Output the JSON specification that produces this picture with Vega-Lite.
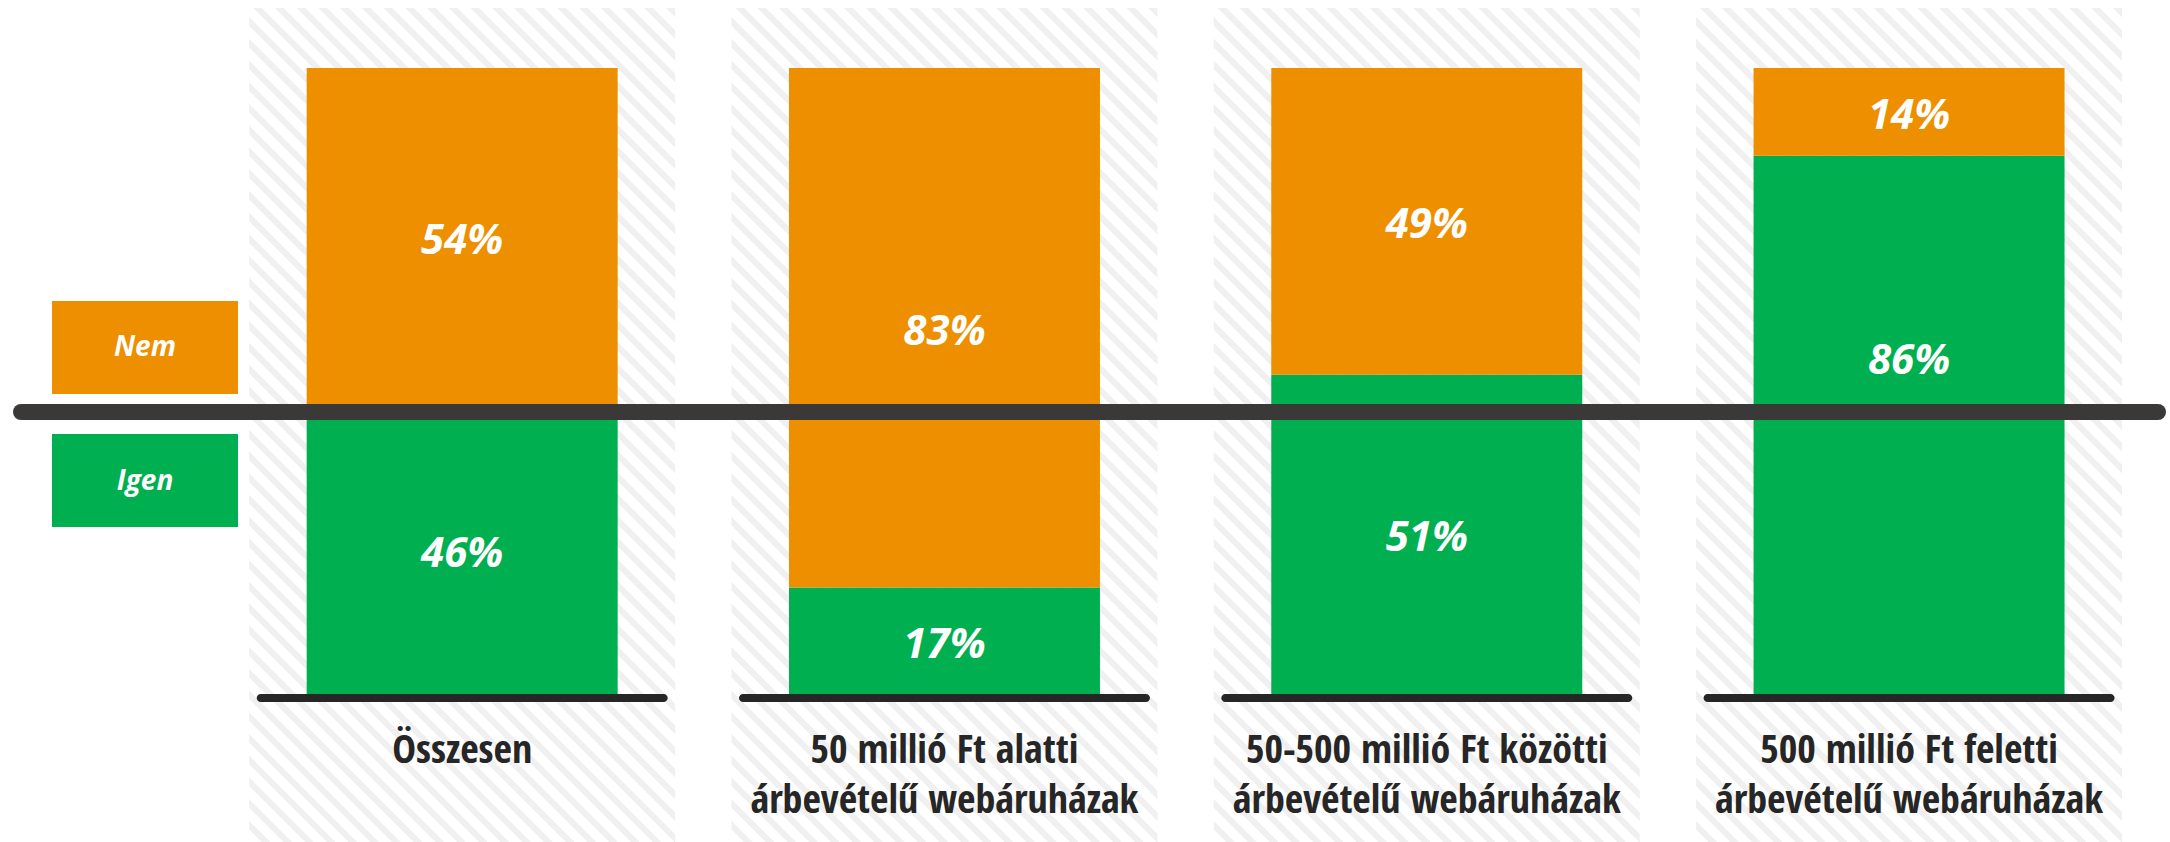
{
  "$schema": "https://vega.github.io/schema/vega-lite/v6.json",
  "width": 2137,
  "height": 842,
  "padding": {"left": 21, "right": 12, "top": 0, "bottom": 0},
  "autosize": {"type": "none"},
  "background": "#ffffff",
  "config": {"view": {"stroke": null}},
  "datasets": {
    "adatok": [
      {"kategoria": "Összesen", "valasz": "Igen", "arany": 0.46},
      {"kategoria": "Összesen", "valasz": "Nem", "arany": 0.54},
      {"kategoria": "50 millió Ft alatti\nárbevételű webáruházak", "valasz": "Igen", "arany": 0.17},
      {"kategoria": "50 millió Ft alatti\nárbevételű webáruházak", "valasz": "Nem", "arany": 0.83},
      {"kategoria": "50-500 millió Ft közötti\nárbevételű webáruházak", "valasz": "Igen", "arany": 0.51},
      {"kategoria": "50-500 millió Ft közötti\nárbevételű webáruházak", "valasz": "Nem", "arany": 0.49},
      {"kategoria": "500 millió Ft feletti\nárbevételű webáruházak", "valasz": "Igen", "arany": 0.86},
      {"kategoria": "500 millió Ft feletti\nárbevételű webáruházak", "valasz": "Nem", "arany": 0.14}
    ],
    "kategoriak": [
      {"kategoria": "Összesen"},
      {"kategoria": "50 millió Ft alatti\nárbevételű webáruházak"},
      {"kategoria": "50-500 millió Ft közötti\nárbevételű webáruházak"},
      {"kategoria": "500 millió Ft feletti\nárbevételű webáruházak"}
    ],
    "jelmagyarazat": [
      {"valasz": "Nem"},
      {"valasz": "Igen"}
    ]
  },
  "layer": [
    {
      "layer": [
        {
          "data": {"name": "kategoriak"},
          "mark": {
            "type": "bar",
            "width": {"band": 0.8833},
            "fill": {
              "gradient": "linear", "x1": 0.194, "y1": 1.0991, "x2": 0.806, "y2": -0.0991,
              "stops": [
                {"offset": 0, "color": "#fff"}, {"offset": 0.0095, "color": "#fff"}, {"offset": 0.0103, "color": "#f0f0f0"}, {"offset": 0.0164, "color": "#f0f0f0"},
                {"offset": 0.0172, "color": "#fff"}, {"offset": 0.0267, "color": "#fff"}, {"offset": 0.0276, "color": "#f0f0f0"}, {"offset": 0.0336, "color": "#f0f0f0"},
                {"offset": 0.0345, "color": "#fff"}, {"offset": 0.0440, "color": "#fff"}, {"offset": 0.0448, "color": "#f0f0f0"}, {"offset": 0.0509, "color": "#f0f0f0"},
                {"offset": 0.0517, "color": "#fff"}, {"offset": 0.0612, "color": "#fff"}, {"offset": 0.0621, "color": "#f0f0f0"}, {"offset": 0.0681, "color": "#f0f0f0"},
                {"offset": 0.0690, "color": "#fff"}, {"offset": 0.0784, "color": "#fff"}, {"offset": 0.0793, "color": "#f0f0f0"}, {"offset": 0.0853, "color": "#f0f0f0"},
                {"offset": 0.0862, "color": "#fff"}, {"offset": 0.0957, "color": "#fff"}, {"offset": 0.0966, "color": "#f0f0f0"}, {"offset": 0.1026, "color": "#f0f0f0"},
                {"offset": 0.1034, "color": "#fff"}, {"offset": 0.1129, "color": "#fff"}, {"offset": 0.1138, "color": "#f0f0f0"}, {"offset": 0.1198, "color": "#f0f0f0"},
                {"offset": 0.1207, "color": "#fff"}, {"offset": 0.1302, "color": "#fff"}, {"offset": 0.1310, "color": "#f0f0f0"}, {"offset": 0.1371, "color": "#f0f0f0"},
                {"offset": 0.1379, "color": "#fff"}, {"offset": 0.1474, "color": "#fff"}, {"offset": 0.1483, "color": "#f0f0f0"}, {"offset": 0.1543, "color": "#f0f0f0"},
                {"offset": 0.1552, "color": "#fff"}, {"offset": 0.1647, "color": "#fff"}, {"offset": 0.1655, "color": "#f0f0f0"}, {"offset": 0.1716, "color": "#f0f0f0"},
                {"offset": 0.1724, "color": "#fff"}, {"offset": 0.1819, "color": "#fff"}, {"offset": 0.1828, "color": "#f0f0f0"}, {"offset": 0.1888, "color": "#f0f0f0"},
                {"offset": 0.1897, "color": "#fff"}, {"offset": 0.1991, "color": "#fff"}, {"offset": 0.2000, "color": "#f0f0f0"}, {"offset": 0.2060, "color": "#f0f0f0"},
                {"offset": 0.2069, "color": "#fff"}, {"offset": 0.2164, "color": "#fff"}, {"offset": 0.2172, "color": "#f0f0f0"}, {"offset": 0.2233, "color": "#f0f0f0"},
                {"offset": 0.2241, "color": "#fff"}, {"offset": 0.2336, "color": "#fff"}, {"offset": 0.2345, "color": "#f0f0f0"}, {"offset": 0.2405, "color": "#f0f0f0"},
                {"offset": 0.2414, "color": "#fff"}, {"offset": 0.2509, "color": "#fff"}, {"offset": 0.2517, "color": "#f0f0f0"}, {"offset": 0.2578, "color": "#f0f0f0"},
                {"offset": 0.2586, "color": "#fff"}, {"offset": 0.2681, "color": "#fff"}, {"offset": 0.2690, "color": "#f0f0f0"}, {"offset": 0.2750, "color": "#f0f0f0"},
                {"offset": 0.2759, "color": "#fff"}, {"offset": 0.2853, "color": "#fff"}, {"offset": 0.2862, "color": "#f0f0f0"}, {"offset": 0.2922, "color": "#f0f0f0"},
                {"offset": 0.2931, "color": "#fff"}, {"offset": 0.3026, "color": "#fff"}, {"offset": 0.3034, "color": "#f0f0f0"}, {"offset": 0.3095, "color": "#f0f0f0"},
                {"offset": 0.3103, "color": "#fff"}, {"offset": 0.3198, "color": "#fff"}, {"offset": 0.3207, "color": "#f0f0f0"}, {"offset": 0.3267, "color": "#f0f0f0"},
                {"offset": 0.3276, "color": "#fff"}, {"offset": 0.3371, "color": "#fff"}, {"offset": 0.3379, "color": "#f0f0f0"}, {"offset": 0.3440, "color": "#f0f0f0"},
                {"offset": 0.3448, "color": "#fff"}, {"offset": 0.3543, "color": "#fff"}, {"offset": 0.3552, "color": "#f0f0f0"}, {"offset": 0.3612, "color": "#f0f0f0"},
                {"offset": 0.3621, "color": "#fff"}, {"offset": 0.3716, "color": "#fff"}, {"offset": 0.3724, "color": "#f0f0f0"}, {"offset": 0.3784, "color": "#f0f0f0"},
                {"offset": 0.3793, "color": "#fff"}, {"offset": 0.3888, "color": "#fff"}, {"offset": 0.3897, "color": "#f0f0f0"}, {"offset": 0.3957, "color": "#f0f0f0"},
                {"offset": 0.3966, "color": "#fff"}, {"offset": 0.4060, "color": "#fff"}, {"offset": 0.4069, "color": "#f0f0f0"}, {"offset": 0.4129, "color": "#f0f0f0"},
                {"offset": 0.4138, "color": "#fff"}, {"offset": 0.4233, "color": "#fff"}, {"offset": 0.4241, "color": "#f0f0f0"}, {"offset": 0.4302, "color": "#f0f0f0"},
                {"offset": 0.4310, "color": "#fff"}, {"offset": 0.4405, "color": "#fff"}, {"offset": 0.4414, "color": "#f0f0f0"}, {"offset": 0.4474, "color": "#f0f0f0"},
                {"offset": 0.4483, "color": "#fff"}, {"offset": 0.4578, "color": "#fff"}, {"offset": 0.4586, "color": "#f0f0f0"}, {"offset": 0.4647, "color": "#f0f0f0"},
                {"offset": 0.4655, "color": "#fff"}, {"offset": 0.4750, "color": "#fff"}, {"offset": 0.4759, "color": "#f0f0f0"}, {"offset": 0.4819, "color": "#f0f0f0"},
                {"offset": 0.4828, "color": "#fff"}, {"offset": 0.4922, "color": "#fff"}, {"offset": 0.4931, "color": "#f0f0f0"}, {"offset": 0.4991, "color": "#f0f0f0"},
                {"offset": 0.5000, "color": "#fff"}, {"offset": 0.5095, "color": "#fff"}, {"offset": 0.5103, "color": "#f0f0f0"}, {"offset": 0.5164, "color": "#f0f0f0"},
                {"offset": 0.5172, "color": "#fff"}, {"offset": 0.5267, "color": "#fff"}, {"offset": 0.5276, "color": "#f0f0f0"}, {"offset": 0.5336, "color": "#f0f0f0"},
                {"offset": 0.5345, "color": "#fff"}, {"offset": 0.5440, "color": "#fff"}, {"offset": 0.5448, "color": "#f0f0f0"}, {"offset": 0.5509, "color": "#f0f0f0"},
                {"offset": 0.5517, "color": "#fff"}, {"offset": 0.5612, "color": "#fff"}, {"offset": 0.5621, "color": "#f0f0f0"}, {"offset": 0.5681, "color": "#f0f0f0"},
                {"offset": 0.5690, "color": "#fff"}, {"offset": 0.5784, "color": "#fff"}, {"offset": 0.5793, "color": "#f0f0f0"}, {"offset": 0.5853, "color": "#f0f0f0"},
                {"offset": 0.5862, "color": "#fff"}, {"offset": 0.5957, "color": "#fff"}, {"offset": 0.5966, "color": "#f0f0f0"}, {"offset": 0.6026, "color": "#f0f0f0"},
                {"offset": 0.6034, "color": "#fff"}, {"offset": 0.6129, "color": "#fff"}, {"offset": 0.6138, "color": "#f0f0f0"}, {"offset": 0.6198, "color": "#f0f0f0"},
                {"offset": 0.6207, "color": "#fff"}, {"offset": 0.6302, "color": "#fff"}, {"offset": 0.6310, "color": "#f0f0f0"}, {"offset": 0.6371, "color": "#f0f0f0"},
                {"offset": 0.6379, "color": "#fff"}, {"offset": 0.6474, "color": "#fff"}, {"offset": 0.6483, "color": "#f0f0f0"}, {"offset": 0.6543, "color": "#f0f0f0"},
                {"offset": 0.6552, "color": "#fff"}, {"offset": 0.6647, "color": "#fff"}, {"offset": 0.6655, "color": "#f0f0f0"}, {"offset": 0.6716, "color": "#f0f0f0"},
                {"offset": 0.6724, "color": "#fff"}, {"offset": 0.6819, "color": "#fff"}, {"offset": 0.6828, "color": "#f0f0f0"}, {"offset": 0.6888, "color": "#f0f0f0"},
                {"offset": 0.6897, "color": "#fff"}, {"offset": 0.6991, "color": "#fff"}, {"offset": 0.7000, "color": "#f0f0f0"}, {"offset": 0.7060, "color": "#f0f0f0"},
                {"offset": 0.7069, "color": "#fff"}, {"offset": 0.7164, "color": "#fff"}, {"offset": 0.7172, "color": "#f0f0f0"}, {"offset": 0.7233, "color": "#f0f0f0"},
                {"offset": 0.7241, "color": "#fff"}, {"offset": 0.7336, "color": "#fff"}, {"offset": 0.7345, "color": "#f0f0f0"}, {"offset": 0.7405, "color": "#f0f0f0"},
                {"offset": 0.7414, "color": "#fff"}, {"offset": 0.7509, "color": "#fff"}, {"offset": 0.7517, "color": "#f0f0f0"}, {"offset": 0.7578, "color": "#f0f0f0"},
                {"offset": 0.7586, "color": "#fff"}, {"offset": 0.7681, "color": "#fff"}, {"offset": 0.7690, "color": "#f0f0f0"}, {"offset": 0.7750, "color": "#f0f0f0"},
                {"offset": 0.7759, "color": "#fff"}, {"offset": 0.7853, "color": "#fff"}, {"offset": 0.7862, "color": "#f0f0f0"}, {"offset": 0.7922, "color": "#f0f0f0"},
                {"offset": 0.7931, "color": "#fff"}, {"offset": 0.8026, "color": "#fff"}, {"offset": 0.8034, "color": "#f0f0f0"}, {"offset": 0.8095, "color": "#f0f0f0"},
                {"offset": 0.8103, "color": "#fff"}, {"offset": 0.8198, "color": "#fff"}, {"offset": 0.8207, "color": "#f0f0f0"}, {"offset": 0.8267, "color": "#f0f0f0"},
                {"offset": 0.8276, "color": "#fff"}, {"offset": 0.8371, "color": "#fff"}, {"offset": 0.8379, "color": "#f0f0f0"}, {"offset": 0.8440, "color": "#f0f0f0"},
                {"offset": 0.8448, "color": "#fff"}, {"offset": 0.8543, "color": "#fff"}, {"offset": 0.8552, "color": "#f0f0f0"}, {"offset": 0.8612, "color": "#f0f0f0"},
                {"offset": 0.8621, "color": "#fff"}, {"offset": 0.8716, "color": "#fff"}, {"offset": 0.8724, "color": "#f0f0f0"}, {"offset": 0.8784, "color": "#f0f0f0"},
                {"offset": 0.8793, "color": "#fff"}, {"offset": 0.8888, "color": "#fff"}, {"offset": 0.8897, "color": "#f0f0f0"}, {"offset": 0.8957, "color": "#f0f0f0"},
                {"offset": 0.8966, "color": "#fff"}, {"offset": 0.9060, "color": "#fff"}, {"offset": 0.9069, "color": "#f0f0f0"}, {"offset": 0.9129, "color": "#f0f0f0"},
                {"offset": 0.9138, "color": "#fff"}, {"offset": 0.9233, "color": "#fff"}, {"offset": 0.9241, "color": "#f0f0f0"}, {"offset": 0.9302, "color": "#f0f0f0"},
                {"offset": 0.9310, "color": "#fff"}, {"offset": 0.9405, "color": "#fff"}, {"offset": 0.9414, "color": "#f0f0f0"}, {"offset": 0.9474, "color": "#f0f0f0"},
                {"offset": 0.9483, "color": "#fff"}, {"offset": 0.9578, "color": "#fff"}, {"offset": 0.9586, "color": "#f0f0f0"}, {"offset": 0.9647, "color": "#f0f0f0"},
                {"offset": 0.9655, "color": "#fff"}, {"offset": 0.9750, "color": "#fff"}, {"offset": 0.9759, "color": "#f0f0f0"}, {"offset": 0.9819, "color": "#f0f0f0"},
                {"offset": 0.9828, "color": "#fff"}, {"offset": 0.9922, "color": "#fff"}, {"offset": 0.9931, "color": "#f0f0f0"}, {"offset": 0.9991, "color": "#f0f0f0"},
                {"offset": 1, "color": "#fff"}
              ]
            }
          },
          "encoding": {
            "x": {
              "field": "kategoria", "type": "nominal", "sort": null, "axis": null,
              "scale": {
                "domain": ["Összesen", "50 millió Ft alatti\nárbevételű webáruházak", "50-500 millió Ft közötti\nárbevételű webáruházak", "500 millió Ft feletti\nárbevételű webáruházak"],
                "paddingInner": 0, "paddingOuter": 0.21545, "align": 0.9625
              }
            },
            "y": {"datum": 1.0958, "type": "quantitative", "axis": null, "scale": {"domain": [-0.23642, 1.10863], "nice": false, "zero": false}},
            "y2": {"datum": -0.23642}
          }
        },
        {
          "data": {"name": "adatok"},
          "mark": {"type": "bar", "width": {"band": 0.6448}},
          "encoding": {
            "x": {"field": "kategoria", "type": "nominal", "sort": null, "axis": null},
            "y": {"field": "arany", "type": "quantitative", "stack": "zero", "axis": null},
            "color": {"field": "valasz", "type": "nominal", "legend": null, "scale": {"domain": ["Igen", "Nem"], "range": ["#00AF50", "#EE8F00"]}},
            "order": {"field": "valasz", "type": "nominal", "sort": "ascending"}
          }
        },
        {
          "data": {"name": "adatok"},
          "transform": [
            {"stack": "arany", "groupby": ["kategoria"], "sort": [{"field": "valasz", "order": "ascending"}], "as": ["also", "felso"]},
            {"fold": ["also", "felso"], "as": ["hatar", "pozicio"]},
            {"aggregate": [{"op": "mean", "field": "pozicio", "as": "kozep"}], "groupby": ["kategoria", "valasz", "arany"]},
            {"filter": "abs(datum.kozep - 0.4505) > 0.04"}
          ],
          "mark": {"type": "text", "font": "Open Sans", "fontWeight": "bold", "fontStyle": "italic", "fontSize": 42, "color": "#ffffff", "baseline": "middle", "align": "center", "yOffset": 4},
          "encoding": {
            "x": {"field": "kategoria", "type": "nominal", "sort": null, "axis": null},
            "y": {"field": "kozep", "type": "quantitative", "axis": null},
            "text": {"field": "arany", "type": "quantitative", "format": ".0%"}
          }
        },
        {
          "data": {"name": "adatok"},
          "transform": [
            {"stack": "arany", "groupby": ["kategoria"], "sort": [{"field": "valasz", "order": "ascending"}], "as": ["also", "felso"]},
            {"fold": ["also", "felso"], "as": ["hatar", "pozicio"]},
            {"aggregate": [{"op": "mean", "field": "pozicio", "as": "kozep"}], "groupby": ["kategoria", "valasz", "arany"]},
            {"filter": "abs(datum.kozep - 0.4505) <= 0.04"}
          ],
          "mark": {"type": "text", "font": "Open Sans", "fontWeight": "bold", "fontStyle": "italic", "fontSize": 42, "color": "#ffffff", "baseline": "middle", "align": "center", "yOffset": 4},
          "encoding": {
            "x": {"field": "kategoria", "type": "nominal", "sort": null, "axis": null},
            "y": {"datum": 0.539, "type": "quantitative", "axis": null},
            "text": {"field": "arany", "type": "quantitative", "format": ".0%"}
          }
        },
        {
          "data": {"name": "kategoriak"},
          "mark": {"type": "tick", "orient": "horizontal", "size": 411, "thickness": 8, "cornerRadius": 4, "color": "#262626", "opacity": 1, "yOffset": 4},
          "encoding": {
            "x": {"field": "kategoria", "type": "nominal", "sort": null, "axis": null},
            "y": {"datum": 0, "type": "quantitative", "axis": null}
          }
        },
        {
          "data": {"name": "kategoriak"},
          "mark": {"type": "text", "font": "Open Sans Condensed, Noto Sans Condensed, DejaVu Sans Condensed, sans-serif", "fontWeight": "bold", "fontSize": 40, "color": "#262626", "baseline": "alphabetic", "align": "center", "lineBreak": "\n", "lineHeight": 50},
          "encoding": {
            "x": {"field": "kategoria", "type": "nominal", "sort": null, "axis": null},
            "y": {"datum": -0.1102, "type": "quantitative", "axis": null},
            "text": {"field": "kategoria", "type": "nominal"}
          }
        },
        {
          "data": {"values": [{}]},
          "mark": {"type": "rule", "strokeWidth": 16, "strokeCap": "round", "color": "#3B3937"},
          "encoding": {
            "y": {"datum": 0.4505, "type": "quantitative", "axis": null}
          }
        }
      ]
    },
    {
      "data": {"name": "jelmagyarazat"},
      "layer": [
        {
          "mark": {"type": "rect"},
          "encoding": {
            "x": {"datum": "Válasz", "type": "nominal", "axis": null, "scale": {"range": [31, 217], "paddingInner": 0, "paddingOuter": 0}},
            "y": {"field": "valasz", "type": "nominal", "axis": null, "scale": {"domain": ["Nem", "Igen"], "range": [301, 527], "paddingInner": 0.3008, "paddingOuter": 0}},
            "color": {"field": "valasz", "type": "nominal", "legend": null}
          }
        },
        {
          "mark": {"type": "text", "font": "Open Sans", "fontWeight": "bold", "fontStyle": "italic", "fontSize": 28, "color": "#ffffff", "baseline": "middle", "align": "center", "yOffset": 1},
          "encoding": {
            "x": {"datum": "Válasz", "type": "nominal", "axis": null},
            "y": {"field": "valasz", "type": "nominal", "axis": null},
            "text": {"field": "valasz", "type": "nominal"}
          }
        }
      ]
    }
  ],
  "resolve": {"scale": {"x": "independent", "y": "independent"}}
}
